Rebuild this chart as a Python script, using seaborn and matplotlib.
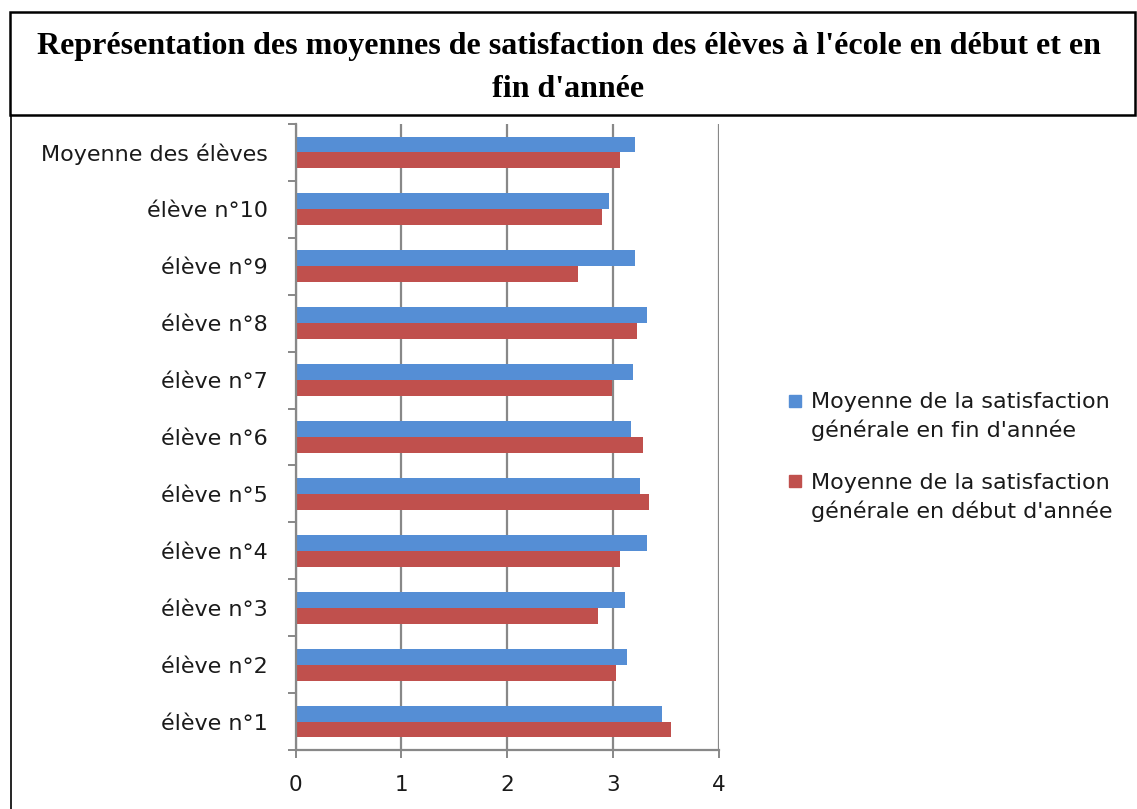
#!/usr/bin/env python3
"""Horizontal bar chart: student satisfaction averages, start vs end of year."""

import matplotlib
matplotlib.use("Agg")
import matplotlib.pyplot as plt
import pandas as pd
import seaborn as sns
from matplotlib.patches import Rectangle
from matplotlib.lines import Line2D
from matplotlib.legend_handler import HandlerLine2D

# categories, top to bottom as shown
STUDENTS = [
    "Moyenne des élèves",
    "élève n°10",
    "élève n°9",
    "élève n°8",
    "élève n°7",
    "élève n°6",
    "élève n°5",
    "élève n°4",
    "élève n°3",
    "élève n°2",
    "élève n°1",
]
FIN_ANNEE = [3.21, 2.96, 3.21, 3.32, 3.19, 3.17, 3.26, 3.32, 3.11, 3.13, 3.46]
DEBUT_ANNEE = [3.07, 2.90, 2.67, 3.23, 2.99, 3.28, 3.34, 3.07, 2.86, 3.03, 3.55]

SERIES = [
    "Moyenne de la satisfaction\ngénérale en fin d'année",
    "Moyenne de la satisfaction\ngénérale en début d'année",
]
COLORS = ["#558ED5", "#C0504D"]
X_TICKS = [0, 1, 2, 3, 4]

TITLE = ("Représentation des moyennes de satisfaction des élèves à l'école en début et en\n"
         "fin d'année")


class FirstLineHandler(HandlerLine2D):
    """Put the legend marker next to the first line of a two-line label."""

    def create_artists(self, legend, orig_handle, xdescent, ydescent,
                       width, height, fontsize, trans):
        arts = super().create_artists(legend, orig_handle, xdescent, ydescent,
                                      width, height, fontsize, trans)
        for a in arts:
            a.set_ydata(a.get_ydata() + 0.74 * fontsize)
        return arts


def main() -> None:
    df = pd.concat([
        pd.DataFrame({"eleve": STUDENTS, "valeur": FIN_ANNEE, "serie": SERIES[0]}),
        pd.DataFrame({"eleve": STUDENTS, "valeur": DEBUT_ANNEE, "serie": SERIES[1]}),
    ])

    sns.set_style("white")
    plt.rcParams["font.family"] = ["DejaVu Sans"]

    W, H = 1137, 809
    fig = plt.figure(figsize=(W / 100, H / 100), dpi=100)
    ax = fig.add_axes([295.7 / W, 1 - 750 / H, 423 / W, 626 / H])

    sns.barplot(
        data=df, y="eleve", x="valeur", hue="serie",
        order=STUDENTS, hue_order=SERIES, palette=COLORS,
        orient="h", width=0.56, linewidth=0, saturation=1,
        ax=ax, legend=True,
    )

    grey = "#888888"
    txt = "#1a1a1a"
    ax.set_xlim(0, 4)
    ax.set_ylim(len(STUDENTS) - 0.5, -0.5)
    ax.set_xticks(X_TICKS)
    ax.set_xlabel("")
    ax.set_ylabel("")
    ax.xaxis.grid(True, color=grey, linewidth=1.6)
    ax.yaxis.grid(False)
    ax.set_axisbelow(True)
    for side in ("top", "right"):
        ax.spines[side].set_visible(False)
    for side in ("left", "bottom"):
        ax.spines[side].set_color(grey)
        ax.spines[side].set_linewidth(1.6)

    ax.tick_params(axis="x", length=6, width=1.4, color=grey, pad=12,
                   labelsize=15.5, labelcolor=txt, direction="out", bottom=True)
    ax.tick_params(axis="y", which="major", length=0, pad=20,
                   labelsize=16, labelcolor=txt)
    ax.set_yticks([i - 0.5 for i in range(len(STUDENTS) + 1)], minor=True)
    ax.tick_params(axis="y", which="minor", length=6, width=1.4, color=grey,
                   direction="out", left=True)

    ax.get_legend().remove()
    handles = [Line2D([], [], marker="s", linestyle="", markersize=8.5,
                      markerfacecolor=c, markeredgecolor=c) for c in COLORS]
    leg = fig.legend(handles, SERIES, loc="center left",
                     bbox_to_anchor=(768 / W, 1 - 457 / H), frameon=False,
                     fontsize=16, handlelength=0.6, handletextpad=0.45,
                     labelspacing=1.4, labelcolor=txt,
                     handler_map={Line2D: FirstLineHandler()})
    for t in leg.get_texts():
        t.set_linespacing(1.45)

    # title box and left frame line
    fig.add_artist(Rectangle((10 / W, 1 - 115 / H), 1125 / W, 103 / H,
                             transform=fig.transFigure, fill=False,
                             edgecolor="black", linewidth=1.8))
    fig.add_artist(Line2D([11 / W, 11 / W], [0, 1 - 115 / H],
                          transform=fig.transFigure, color="black", linewidth=1.2))
    fig.text(0.5, 1 - 68 / H, TITLE, ha="center", va="center",
             family=["Liberation Serif", "DejaVu Serif"], fontweight="bold",
             fontsize=23, linespacing=1.6, color="black")

    fig.savefig("out.png", dpi=100)


if __name__ == "__main__":
    main()
